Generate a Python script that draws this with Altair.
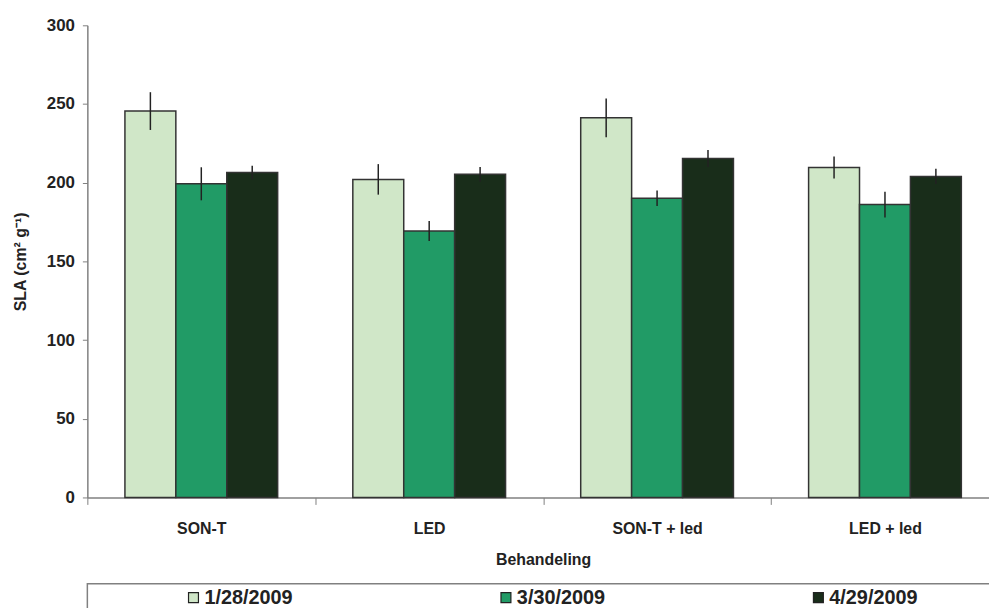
import altair as alt
import pandas as pd

treatments = ["SON-T", "LED", "SON-T + led", "LED + led"]
dates = ["1/28/2009", "3/30/2009", "4/29/2009"]
colors = ["#d0e7c8", "#219b66", "#192d1a"]

sla_0128 = [245.5, 202.1, 241.2, 209.7]
sla_0330 = [199.3, 169.3, 190.1, 186.1]
sla_0429 = [206.5, 205.3, 215.4, 204.0]

err_0128 = [12.0, 9.7, 12.3, 7.0]
err_0330 = [10.5, 6.4, 4.9, 8.2]
err_0429 = [4.3, 4.7, 5.4, 4.8]

rows = []
for d, vals, errs in zip(dates, [sla_0128, sla_0330, sla_0429], [err_0128, err_0330, err_0429]):
    for t, v, e in zip(treatments, vals, errs):
        rows.append({"Behandeling": t, "Datum": d, "SLA": v, "lo": v - e, "hi": v + e})
df = pd.DataFrame(rows)

FONT = "Liberation Sans"

x_enc = alt.X(
    "Behandeling:N",
    sort=treatments,
    scale=alt.Scale(range=[0, 919], paddingInner=0, paddingOuter=0),
    axis=alt.Axis(
        title="Behandeling",
        labelAngle=0,
        tickBand="extent",
        tickSize=7,
        labelPadding=16,
        labelFontSize=16,
        labelFont=FONT,
        labelFontWeight="bold",
        labelColor="#222222",
        titleFontSize=16,
        titleFont=FONT,
        titleFontWeight="bold",
        titleColor="#222222",
        titlePadding=16,
        domainColor="#808080",
        tickColor="#808080",
        domainWidth=1.5,
        grid=False,
    ),
)
xoff_enc = alt.XOffset(
    "Datum:N", sort=dates, scale=alt.Scale(paddingInner=0, paddingOuter=0.738)
)

bars = alt.Chart(df).mark_bar(stroke="#333333", strokeWidth=1.5).encode(
    x=x_enc,
    xOffset=xoff_enc,
    y=alt.Y(
        "SLA:Q",
        scale=alt.Scale(domain=[0, 300], nice=False),
        axis=alt.Axis(
            title="SLA (cm² g⁻¹)",
            values=[0, 50, 100, 150, 200, 250, 300],
            tickSize=5,
            labelPadding=8,
            labelFontSize=17,
            labelFont=FONT,
            labelFontWeight="bold",
            labelColor="#222222",
            titleFontSize=16,
            titleFont=FONT,
            titleFontWeight="bold",
            titleColor="#222222",
            titlePadding=18,
            domainColor="#808080",
            tickColor="#808080",
            domainWidth=1.5,
            grid=False,
        ),
    ),
    color=alt.Color(
        "Datum:N",
        sort=dates,
        scale=alt.Scale(domain=dates, range=colors),
        legend=alt.Legend(
            title=None,
            orient="none",
            legendX=97,
            legendY=567,
            direction="horizontal",
            columns=3,
            gridAlign="all",
            columnPadding=205,
            symbolType="square",
            symbolSize=100,
            symbolStrokeColor="#222222",
            symbolStrokeWidth=1.2,
            labelOffset=1,
            labelFontSize=20,
            labelFont=FONT,
            labelFontWeight="bold",
            labelColor="#222222",
            padding=0,
        ),
    ),
)

errs = alt.Chart(df).mark_rule(color="#222222", strokeWidth=1.5).encode(
    x=x_enc,
    xOffset=xoff_enc,
    y="lo:Q",
    y2="hi:Q",
)

frame = alt.Chart(pd.DataFrame({"k": [0]})).mark_rect(
    fill=None, stroke="#808080", strokeWidth=1.5
).encode(
    x=alt.value(0),
    x2=alt.value(1000),
    y=alt.value(563),
    y2=alt.value(700),
)

chart = (
    alt.layer(bars, errs, frame)
    .properties(
        width=909,
        height=476,
        autosize=alt.AutoSizeParams(type="none"),
        padding={"left": 80, "top": 15, "right": 0, "bottom": 109},
    )
    .configure_view(stroke=None)
)

chart.save("out.html", embed_options={"renderer": "svg", "actions": False})
